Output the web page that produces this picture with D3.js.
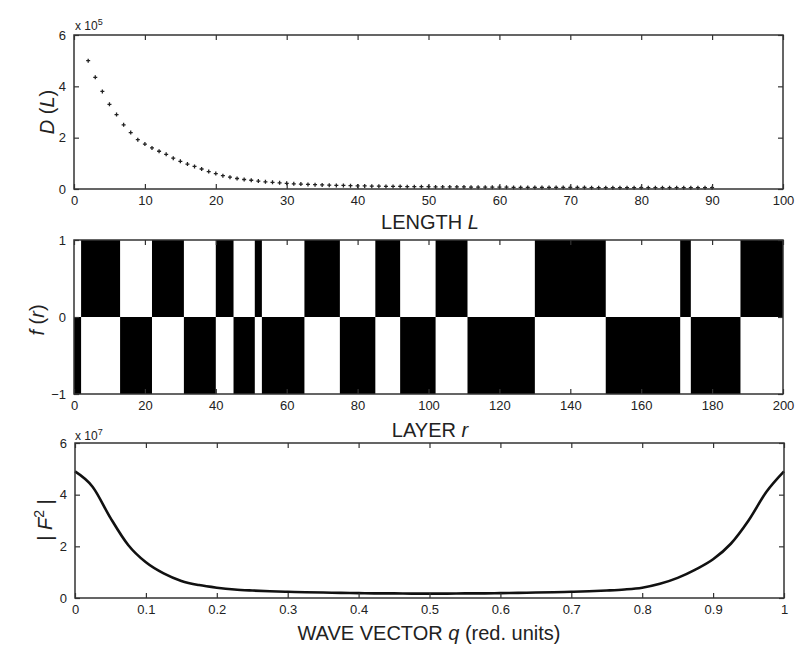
<!DOCTYPE html>
<html>
<head>
<meta charset="utf-8">
<script src="https://cdn.jsdelivr.net/npm/d3@7"></script>
<style>
  body { margin: 0; padding: 0; background: #ffffff; }
  svg { display: block; }
  text { font-family: "Liberation Sans", Arial, Helvetica, sans-serif; fill: #222; }
</style>
</head>
<body>
<svg id="chart" width="795" height="646"></svg>
<script>
// ---- data ----

// top panel: D(L), in units of 1e5
var lengthL = [2, 3, 4, 5, 6, 7, 8, 9, 10, 11, 12, 13, 14, 15, 16, 17, 18, 19, 20,
  21, 22, 23, 24, 25, 26, 27, 28, 29, 30, 31, 32, 33, 34, 35, 36, 37, 38, 39, 40,
  41, 42, 43, 44, 45, 46, 47, 48, 49, 50, 51, 52, 53, 54, 55, 56, 57, 58, 59, 60,
  61, 62, 63, 64, 65, 66, 67, 68, 69, 70, 71, 72, 73, 74, 75, 76, 77, 78, 79, 80,
  81, 82, 83, 84, 85, 86, 87, 88, 89, 90];
var dValues = [5.0, 4.35, 3.8, 3.3, 2.9, 2.5, 2.2, 1.92, 1.75, 1.6, 1.47, 1.35, 1.2, 1.08, 0.97, 0.88, 0.78, 0.68, 0.6,
  0.52, 0.46, 0.41, 0.37, 0.34, 0.31, 0.28, 0.26, 0.24, 0.22, 0.2, 0.19, 0.18, 0.17, 0.16, 0.15, 0.14, 0.14, 0.13, 0.12,
  0.12, 0.11, 0.11, 0.1, 0.1, 0.1, 0.09, 0.09, 0.09, 0.09, 0.08, 0.08, 0.08, 0.08, 0.08, 0.07, 0.07, 0.07, 0.07, 0.07,
  0.07, 0.06, 0.06, 0.06, 0.06, 0.06, 0.06, 0.06, 0.06, 0.06, 0.06, 0.06, 0.05, 0.05, 0.05, 0.05, 0.05, 0.05, 0.05, 0.05,
  0.05, 0.05, 0.05, 0.05, 0.05, 0.05, 0.05, 0.05, 0.05, 0.05];
var lengthTicks = [0, 10, 20, 30, 40, 50, 60, 70, 80, 90, 100];
var dTicks = [0, 2, 4, 6];

// middle panel: f(r) = +1 / -1, written as runs of layers
var runSigns   = [-1, 1, -1, 1, -1, 1, -1, 1, -1, 1, -1, 1, -1, 1, -1, 1, -1, 1, -1, 1];
var runLengths = [ 2, 11, 9, 9, 9, 5, 6, 2, 12, 10, 10, 7, 10, 9, 19, 20, 21, 3, 14, 12];
var layerTicks = [0, 20, 40, 60, 80, 100, 120, 140, 160, 180, 200];
var fTicks = [-1, 0, 1];

// bottom panel: |F^2| in units of 1e7
var waveQ = [0, 0.025, 0.05, 0.075, 0.1, 0.125, 0.15, 0.175, 0.2, 0.225, 0.25, 0.275, 0.3, 0.325,
  0.35, 0.375, 0.4, 0.425, 0.45, 0.475, 0.5, 0.525, 0.55, 0.575, 0.6, 0.625, 0.65, 0.675, 0.7,
  0.725, 0.75, 0.775, 0.8, 0.825, 0.85, 0.875, 0.9, 0.925, 0.95, 0.975, 1];
var fSquared = [4.9, 4.3, 3.1, 2.05, 1.38, 0.95, 0.66, 0.5, 0.4, 0.33, 0.29, 0.26, 0.24, 0.22,
  0.21, 0.2, 0.19, 0.18, 0.18, 0.17, 0.17, 0.17, 0.18, 0.18, 0.19, 0.2, 0.21, 0.22, 0.24,
  0.26, 0.29, 0.33, 0.4, 0.55, 0.78, 1.1, 1.5, 2.1, 3.0, 4.1, 4.9];
var qTicks = [0, 0.1, 0.2, 0.3, 0.4, 0.5, 0.6, 0.7, 0.8, 0.9, 1];
var f2Ticks = [0, 2, 4, 6];

// ---- drawing ----

var svg = d3.select('#chart');
var axisColor = '#333';

function drawFrame(g, xs, ys, xTicks, yTicks, xFmt, yFmt) {
  var w = xs.range()[1] - xs.range()[0];
  var h = ys.range()[0] - ys.range()[1];

  // bottom + left carry labels, top + right are plain inside ticks
  g.append('g')
    .attr('transform', 'translate(0,' + ys.range()[0] + ')')
    .call(d3.axisBottom(xs).tickValues(xTicks).tickSizeInner(-5).tickSizeOuter(0)
      .tickPadding(7).tickFormat(xFmt));
  g.append('g')
    .attr('transform', 'translate(' + xs.range()[0] + ',0)')
    .call(d3.axisLeft(ys).tickValues(yTicks).tickSizeInner(-5).tickSizeOuter(0)
      .tickPadding(8).tickFormat(yFmt));
  g.append('g')
    .attr('transform', 'translate(0,' + ys.range()[1] + ')')
    .call(d3.axisTop(xs).tickValues(xTicks).tickSizeInner(-5).tickSizeOuter(0).tickFormat(''));
  g.append('g')
    .attr('transform', 'translate(' + xs.range()[1] + ',0)')
    .call(d3.axisRight(ys).tickValues(yTicks).tickSizeInner(-5).tickSizeOuter(0).tickFormat(''));

  g.selectAll('.domain').remove();
  g.selectAll('.tick line').attr('stroke', axisColor).attr('stroke-width', 1.2);
  g.selectAll('.tick text')
    .style('font-family', '"Liberation Sans", Arial, sans-serif')
    .style('font-size', '13px')
    .attr('fill', '#222');

  g.append('rect')
    .attr('x', xs.range()[0])
    .attr('y', ys.range()[1])
    .attr('width', w)
    .attr('height', h)
    .attr('fill', 'none')
    .attr('stroke', axisColor)
    .attr('stroke-width', 1.5);
}

function exponentLabel(x, y, power) {
  var t = svg.append('text')
    .attr('x', x)
    .attr('y', y)
    .style('font-size', '12px');
  t.append('tspan').text('x 10');
  t.append('tspan')
    .attr('dy', -5)
    .style('font-size', '9px')
    .text(power);
}

function yTitle(x, y, parts) {
  var t = svg.append('text')
    .attr('transform', 'translate(' + x + ',' + y + ') rotate(-90)')
    .attr('text-anchor', 'middle')
    .style('font-size', '20px');
  parts.forEach(function(p) {
    var s = t.append('tspan').text(p.text);
    if (p.italic) s.style('font-style', 'italic');
    if (p.sup) s.attr('dy', -8).style('font-size', '14px');
    if (p.down) s.attr('dy', 8);
  });
}

function xTitle(x, y, parts) {
  var t = svg.append('text')
    .attr('x', x)
    .attr('y', y)
    .attr('text-anchor', 'middle')
    .style('font-size', '20px');
  parts.forEach(function(p) {
    var s = t.append('tspan').text(p.text);
    if (p.italic) s.style('font-style', 'italic');
  });
}

function topPanel() {
  var xs = d3.scaleLinear().domain([0, 100]).range([74, 783]);
  var ys = d3.scaleLinear().domain([0, 6]).range([189, 35]);
  var g = svg.append('g');

  var pts = lengthL.map(function(l, i) { return { x: l, y: dValues[i] }; });
  g.selectAll('path.pt')
    .data(pts)
    .enter()
    .append('path')
    .attr('class', 'pt')
    .attr('d', function(d) {
      var cx = xs(d.x), cy = ys(d.y);
      return 'M' + (cx - 2) + ',' + cy + 'h4M' + cx + ',' + (cy - 2) + 'v4';
    })
    .attr('stroke', '#222')
    .attr('stroke-width', 1.3);

  drawFrame(g, xs, ys, lengthTicks, dTicks, d3.format('d'), d3.format('d'));
  exponentLabel(75, 30, '5');
  yTitle(54, 112, [{ text: 'D', italic: true }, { text: ' (' }, { text: 'L', italic: true }, { text: ')' }]);
  xTitle(430, 229, [{ text: 'LENGTH  ' }, { text: 'L', italic: true }]);
}

function middlePanel() {
  var xs = d3.scaleLinear().domain([0, 200]).range([74, 783]);
  var ys = d3.scaleLinear().domain([-1, 1]).range([394, 240]);
  var g = svg.append('g');

  var start = 0;
  var runs = runSigns.map(function(s, i) {
    var r = { x0: start, x1: start + runLengths[i], f: s };
    start += runLengths[i];
    return r;
  });

  g.selectAll('rect.bar')
    .data(runs)
    .enter()
    .append('rect')
    .attr('class', 'bar')
    .attr('x', function(d) { return xs(d.x0); })
    .attr('width', function(d) { return xs(d.x1) - xs(d.x0); })
    .attr('y', function(d) { return d.f > 0 ? ys(d.f) : ys(0); })
    .attr('height', function(d) { return Math.abs(ys(d.f) - ys(0)); })
    .attr('fill', '#000');

  drawFrame(g, xs, ys, layerTicks, fTicks, d3.format('d'), function(d) { return d < 0 ? '\u22121' : d; });
  yTitle(44, 320, [{ text: 'f', italic: true }, { text: ' (' }, { text: 'r', italic: true }, { text: ')' }]);
  xTitle(430, 437, [{ text: 'LAYER   ' }, { text: 'r', italic: true }]);
}

function bottomPanel() {
  var xs = d3.scaleLinear().domain([0, 1]).range([75, 784]);
  var ys = d3.scaleLinear().domain([0, 6]).range([598, 443]);
  var g = svg.append('g');

  var line = d3.line()
    .x(function(d, i) { return xs(waveQ[i]); })
    .y(function(d) { return ys(d); })
    .curve(d3.curveMonotoneX);

  g.append('path')
    .datum(fSquared)
    .attr('d', line)
    .attr('fill', 'none')
    .attr('stroke', '#111')
    .attr('stroke-width', 2.6);

  drawFrame(g, xs, ys, qTicks, f2Ticks, function(d) { return d === 0 || d === 1 ? d : d3.format('.1f')(d); }, d3.format('d'));
  exponentLabel(75, 440, '7');
  yTitle(52, 520, [{ text: '| ' }, { text: 'F', italic: true }, { text: '2', sup: true }, { text: ' |', down: true }]);
  xTitle(429, 640, [{ text: 'WAVE VECTOR ' }, { text: 'q', italic: true }, { text: ' (red. units)' }]);
}

topPanel();
middlePanel();
bottomPanel();
</script>
</body>
</html>
